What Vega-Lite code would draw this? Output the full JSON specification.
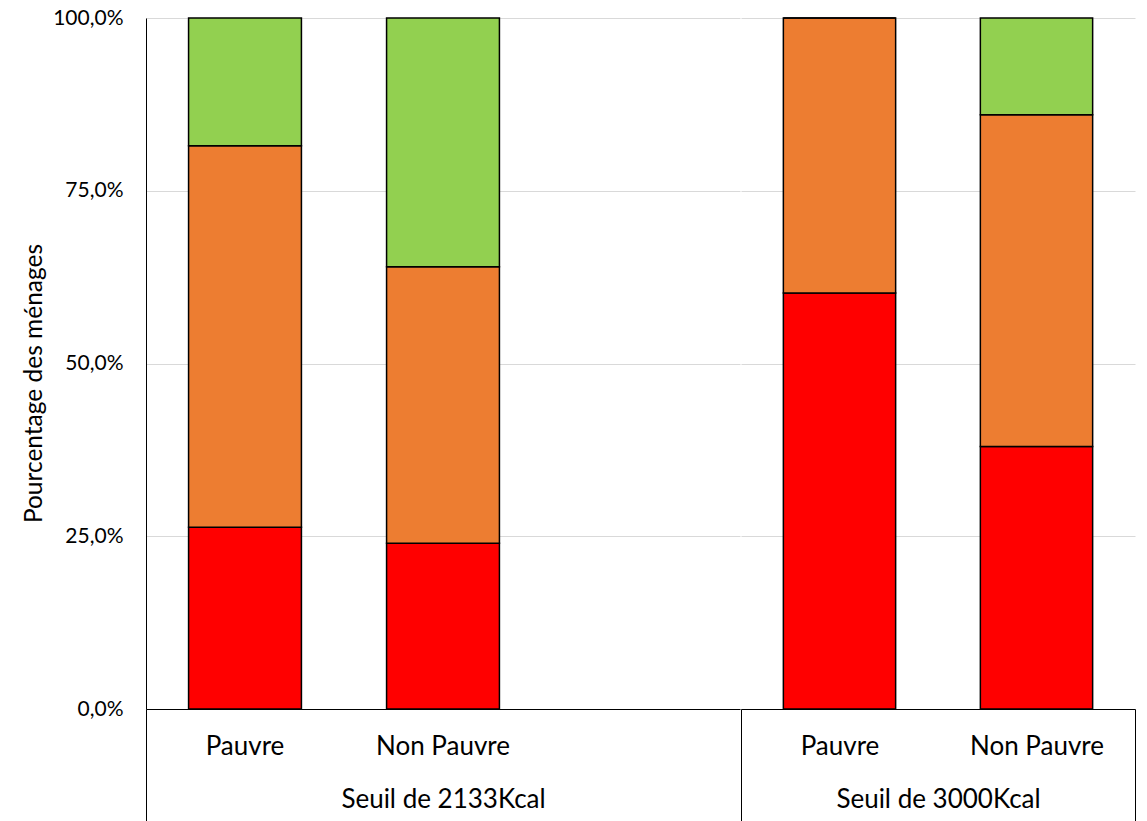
{
  "$schema": "https://vega.github.io/schema/vega-lite/v6.json",
  "padding": {"left": 21, "top": 7, "right": 12, "bottom": 0},
  "background": "white",
  "config": {
    "font": "Lato",
    "view": {"stroke": null},
    "concat": {"spacing": 0},
    "axis": {"labelFont": "Lato", "titleFont": "Lato", "labelColor": "#000000", "titleColor": "#000000", "titleFontWeight": "normal"}
  },
  "datasets": {
    "d": [
      {"seuil": "Seuil de 2133Kcal", "menage": "Pauvre", "niveau": "SCA pauvre", "ordre": 1, "pct": 0.263},
      {"seuil": "Seuil de 2133Kcal", "menage": "Pauvre", "niveau": "SCA limite", "ordre": 2, "pct": 0.552},
      {"seuil": "Seuil de 2133Kcal", "menage": "Pauvre", "niveau": "SCA acceptable", "ordre": 3, "pct": 0.185},
      {"seuil": "Seuil de 2133Kcal", "menage": "Non Pauvre", "niveau": "SCA pauvre", "ordre": 1, "pct": 0.240},
      {"seuil": "Seuil de 2133Kcal", "menage": "Non Pauvre", "niveau": "SCA limite", "ordre": 2, "pct": 0.400},
      {"seuil": "Seuil de 2133Kcal", "menage": "Non Pauvre", "niveau": "SCA acceptable", "ordre": 3, "pct": 0.360},
      {"seuil": "Seuil de 3000Kcal", "menage": "Pauvre", "niveau": "SCA pauvre", "ordre": 1, "pct": 0.602},
      {"seuil": "Seuil de 3000Kcal", "menage": "Pauvre", "niveau": "SCA limite", "ordre": 2, "pct": 0.398},
      {"seuil": "Seuil de 3000Kcal", "menage": "Pauvre", "niveau": "SCA acceptable", "ordre": 3, "pct": 0.0},
      {"seuil": "Seuil de 3000Kcal", "menage": "Non Pauvre", "niveau": "SCA pauvre", "ordre": 1, "pct": 0.380},
      {"seuil": "Seuil de 3000Kcal", "menage": "Non Pauvre", "niveau": "SCA limite", "ordre": 2, "pct": 0.480},
      {"seuil": "Seuil de 3000Kcal", "menage": "Non Pauvre", "niveau": "SCA acceptable", "ordre": 3, "pct": 0.140}
    ]
  },
  "hconcat": [
    {
      "width": 594,
      "height": 691,
      "data": {"name": "d"},
      "transform": [{"filter": "datum.seuil == 'Seuil de 2133Kcal'"}],
      "mark": {"type": "bar", "stroke": "#000000", "strokeWidth": 1.5, "width": {"band": 0.57}},
      "encoding": {
        "x": {
          "field": "menage", "type": "nominal",
          "scale": {"domain": ["Pauvre", "Non Pauvre", " "], "paddingInner": 0, "paddingOuter": 0},
          "axis": {
            "title": "Seuil de 2133Kcal", "titleFontSize": 26, "titleY": 98, "titleBaseline": "alphabetic",
            "labelAngle": 0, "labelFontSize": 26, "labelBaseline": "alphabetic", "labelPadding": -67,
            "domainColor": "#000000", "domainWidth": 1,
            "tickSize": 112, "tickWidth": 1, "bandPosition": 0,
            "tickColor": {"condition": {"test": "datum.value == 'Pauvre'", "value": "#000000"}, "value": "transparent"},
            "grid": false
          }
        },
        "y": {
          "field": "pct", "type": "quantitative", "stack": "zero",
          "scale": {"domain": [0, 1], "nice": false},
          "axis": {
            "title": "Pourcentage des ménages", "titleFontSize": 24.5, "titlePadding": 6, "titleY": 365,
            "values": [0, 0.25, 0.5, 0.75, 1],
            "labelExpr": "replace(format(datum.value, '.1%'), '.', ',')",
            "labelFontSize": 21, "labelPadding": 23, "ticks": false,
            "domainColor": "#000000", "domainWidth": 1,
            "grid": true, "gridColor": "#D9D9D9", "gridWidth": 1
          }
        },
        "color": {
          "field": "niveau", "type": "nominal",
          "scale": {"domain": ["SCA pauvre", "SCA limite", "SCA acceptable"], "range": ["#FF0000", "#ED7D31", "#92D050"]},
          "legend": null
        },
        "order": {"field": "ordre", "type": "quantitative"}
      }
    },
    {
      "width": 394,
      "height": 691,
      "data": {"name": "d"},
      "transform": [{"filter": "datum.seuil == 'Seuil de 3000Kcal'"}],
      "mark": {"type": "bar", "stroke": "#000000", "strokeWidth": 1.5, "width": {"band": 0.57}},
      "encoding": {
        "x": {
          "field": "menage", "type": "nominal",
          "scale": {"domain": ["Pauvre", "Non Pauvre"], "paddingInner": 0, "paddingOuter": 0},
          "axis": {
            "title": "Seuil de 3000Kcal", "titleFontSize": 26, "titleY": 98, "titleBaseline": "alphabetic",
            "labelAngle": 0, "labelFontSize": 26, "labelBaseline": "alphabetic", "labelPadding": -67,
            "domainColor": "#000000", "domainWidth": 1,
            "tickSize": 112, "tickWidth": 1, "tickBand": "extent",
            "tickColor": {"condition": {"test": "datum.value == 'Pauvre'", "value": "transparent"}, "value": "#000000"},
            "grid": false
          }
        },
        "y": {
          "field": "pct", "type": "quantitative", "stack": "zero",
          "scale": {"domain": [0, 1], "nice": false},
          "axis": {
            "title": null, "labels": false, "ticks": false, "domain": false,
            "values": [0, 0.25, 0.5, 0.75, 1],
            "grid": true, "gridColor": "#D9D9D9", "gridWidth": 1
          }
        },
        "color": {
          "field": "niveau", "type": "nominal",
          "scale": {"domain": ["SCA pauvre", "SCA limite", "SCA acceptable"], "range": ["#FF0000", "#ED7D31", "#92D050"]},
          "legend": null
        },
        "order": {"field": "ordre", "type": "quantitative"}
      }
    }
  ]
}
